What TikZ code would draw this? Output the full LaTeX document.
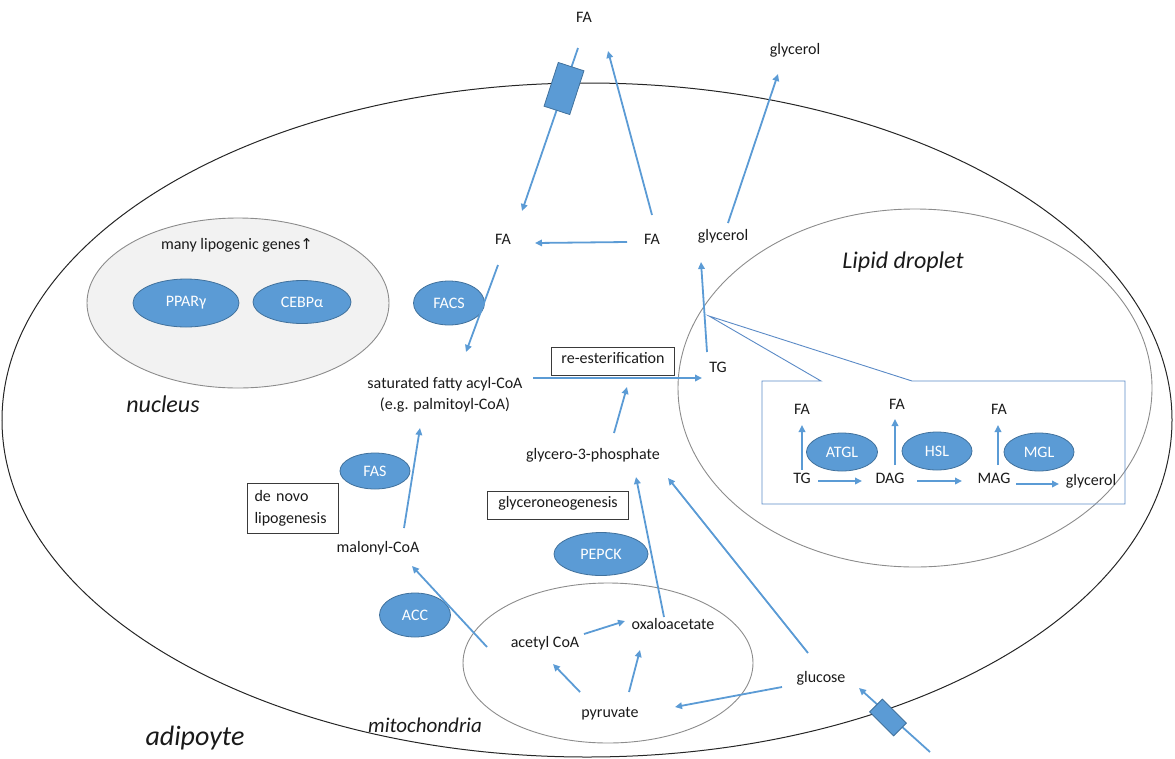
\documentclass[tikz,border=0pt]{standalone}
\usepackage{fontspec}
\setmainfont{Carlito}
\newfontfamily\symfont{DejaVu Sans}
\usetikzlibrary{shapes.geometric,arrows.meta,calc}
\definecolor{ablue}{HTML}{5B9BD5}
\definecolor{eborder}{HTML}{41719C}
\definecolor{callc}{HTML}{5A8AC6}
\definecolor{txt}{HTML}{1A1A1A}
\definecolor{nucfill}{HTML}{F2F2F2}
\definecolor{orgc}{HTML}{8C8C8C}
\definecolor{cellc}{HTML}{262626}
\definecolor{boxc}{HTML}{3A3A3A}
\begin{document}
\begin{tikzpicture}[x=1pt,y=-1pt,
  every node/.style={font=\fontsize{16}{19}\selectfont, text=txt, inner sep=0pt},
  lbl/.style={text height=0.7em, text depth=0.2em},
  arr/.style={draw=ablue, line width=1.8pt, -{Triangle[length=7pt,width=6.5pt]}},
  enz/.style={ellipse, fill=ablue, draw=eborder, line width=0.8pt, text=white},
  tbox/.style={draw=boxc, line width=1pt},
  organelle/.style={ellipse, draw=orgc, line width=0.9pt},
  transp/.style={rectangle, fill=ablue, draw=eborder, line width=0.8pt},
  ital/.style={font=\fontsize{#1}{#1}\selectfont\itshape}
]
\useasboundingbox (0,0) rectangle (1175,758);

% compartments
\node[ellipse, draw=cellc, line width=1pt, minimum width=1170, minimum height=674] (cell) at (587,420) {};
\node[organelle, fill=nucfill, minimum width=302, minimum height=170] (nuc) at (238,303) {};
\node[organelle, minimum width=474, minimum height=358] (ld) at (915,388) {};
\node[organelle, minimum width=290, minimum height=160] (mito) at (608,663) {};

% callout inset
\draw[callc, line width=0.9pt] (762,381) -- (821,381) -- (709,316) -- (912,381) -- (1125,381) -- (1125,504) -- (762,504) -- cycle;

% labels
\node[lbl] (FAtop) at (584,20) {FA};
\node[lbl] (glytop) at (795,52) {glycerol};
\node[lbl] (FAin) at (503,242) {FA};
\node[lbl] (FAr) at (652,242) {FA};
\node[lbl] (glyin) at (723,238) {glycerol};
\node[ital=24] (ldlbl) at (903,262) {Lipid droplet};
\node[lbl] (genes) at (237,247) {many lipogenic genes{\symfont\fontsize{15}{18}\selectfont ↑}};
\node[enz, minimum width=106, minimum height=48] (ppar) at (186,303) {PPARγ};
\node[enz, minimum width=98, minimum height=43] (cebp) at (302,302) {CEBPα};
\node[enz, minimum width=71, minimum height=44] (facs) at (449,303) {FACS};
\node[ital=24] (nuclbl) at (163,404) {nucleus};
\node[align=center, font=\fontsize{16}{21}\selectfont] (sat) at (445,395) {saturated fatty acyl-CoA\\(e.g. palmitoyl-CoA)};
\node[tbox, lbl, minimum width=123, minimum height=28] (reest) at (613,361) {re-esterification};
\node[lbl] (TG) at (718,370) {TG};
\node[lbl] (g3p) at (593,457) {glycero-3-phosphate};
\node[enz, minimum width=70, minimum height=36] (fas) at (375,471) {FAS};
\node[tbox, align=left, text width=77pt, inner xsep=7pt, minimum height=50, font=\fontsize{16}{22}\selectfont] (denovo) at (293,508) {de novo\\lipogenesis};
\node[lbl] (malonyl) at (378,550) {malonyl-CoA};
\node[tbox, lbl, minimum width=141, minimum height=28] (gng) at (558,505) {glyceroneogenesis};
\node[enz, minimum width=94, minimum height=43] (pepck) at (601,554) {PEPCK};
\node[enz, minimum width=71, minimum height=44] (acc) at (415,615) {ACC};
\node[lbl] (acetyl) at (545,645) {acetyl CoA};
\node[lbl] (oxalo) at (673,627) {oxaloacetate};
\node[lbl] (pyr) at (610,715) {pyruvate};
\node[lbl] (glucose) at (821,680) {glucose};
\node[ital=21] (mitolbl) at (425,725) {mitochondria};
\node[ital=28] (celllbl) at (195,738) {adipoyte};

% inset contents
\node[lbl] (TGi) at (802,481) {TG};
\node[lbl] (DAG) at (890,481) {DAG};
\node[lbl] (MAG) at (994,481) {MAG};
\node[lbl] (glyi) at (1091,483) {glycerol};
\node[lbl] (FA1) at (802,412) {FA};
\node[lbl] (FA2) at (897,407) {FA};
\node[lbl] (FA3) at (999,412) {FA};
\node[enz, minimum width=71, minimum height=38] (atgl) at (842,452) {ATGL};
\node[enz, minimum width=70, minimum height=38] (hsl) at (937,451) {HSL};
\node[enz, minimum width=70, minimum height=38] (mgl) at (1039,452) {MGL};

% connectors
\draw[arr] ($(FAtop)+(-6,28)$) -- ($(FAin)+(19,-31)$);
\draw[arr] ($(FAr)+(0,-27)$) -- ($(FAtop)+(24,31)$);
\draw[arr] ($(glyin)+(5,-15)$) -- ($(glytop)+(-17,22)$);
\draw[arr] ($(FAr)+(-25,0)$) -- ($(FAin)+(32,1)$);
\draw[arr] ($(FAin)+(-5,23)$) -- ($(sat)+(21,-43)$);
\draw[arr] ($(sat)+(88,-17)$) -- ($(TG)+(-16,8)$);
\draw[arr] ($(g3p)+(21,-24)$) -- ($(reest)+(14,26)$);
\draw[arr] ($(TG)+(-11,-18)$) -- ($(glyin)+(-22,24)$);
\draw[arr] ($(malonyl)+(26,-22)$) -- ($(sat)+(-25,33)$);
\draw[arr] ($(acetyl)+(-58,2)$) -- ($(malonyl)+(34,16)$);
\draw[arr] ($(oxalo)+(-9,-10)$) -- ($(g3p)+(43,20)$);
\draw[arr] ($(glucose)+(-13,-27)$) -- ($(g3p)+(75,21)$);
\draw[arr] ($(acetyl)+(39,-11)$) -- ($(oxalo)+(-48,-6)$);
\draw[arr] ($(pyr)+(-30,-23)$) -- ($(acetyl)+(8,19)$);
\draw[arr] ($(pyr)+(19,-23)$) -- ($(oxalo)+(-33,23)$);
\draw[arr] ($(glucose)+(-39,7)$) -- ($(pyr)+(65,-8)$);
\draw[arr] ($(glucose)+(109,72)$) -- ($(glucose)+(38,8)$);

\draw[arr] ($(TGi)+(0,-11)$) -- ($(FA1)+(0,13)$);
\draw[arr] ($(DAG)+(5,-16)$) -- ($(FA2)+(-2,12)$);
\draw[arr] ($(MAG)+(4,-16)$) -- ($(FA3)+(-1,13)$);
\draw[arr] ($(TGi)+(16,0)$) -- ($(DAG)+(-28,0)$);
\draw[arr] ($(DAG)+(27,0)$) -- ($(MAG)+(-32,0)$);
\draw[arr] ($(MAG)+(22,3)$) -- ($(glyi)+(-32,1)$);

% transporters
\node[transp, minimum width=27, minimum height=46, rotate=-18] (fat) at (564,88.5) {};
\node[transp, minimum width=18, minimum height=34, rotate=45] (glut) at (888,717.5) {};
\end{tikzpicture}
\end{document}
